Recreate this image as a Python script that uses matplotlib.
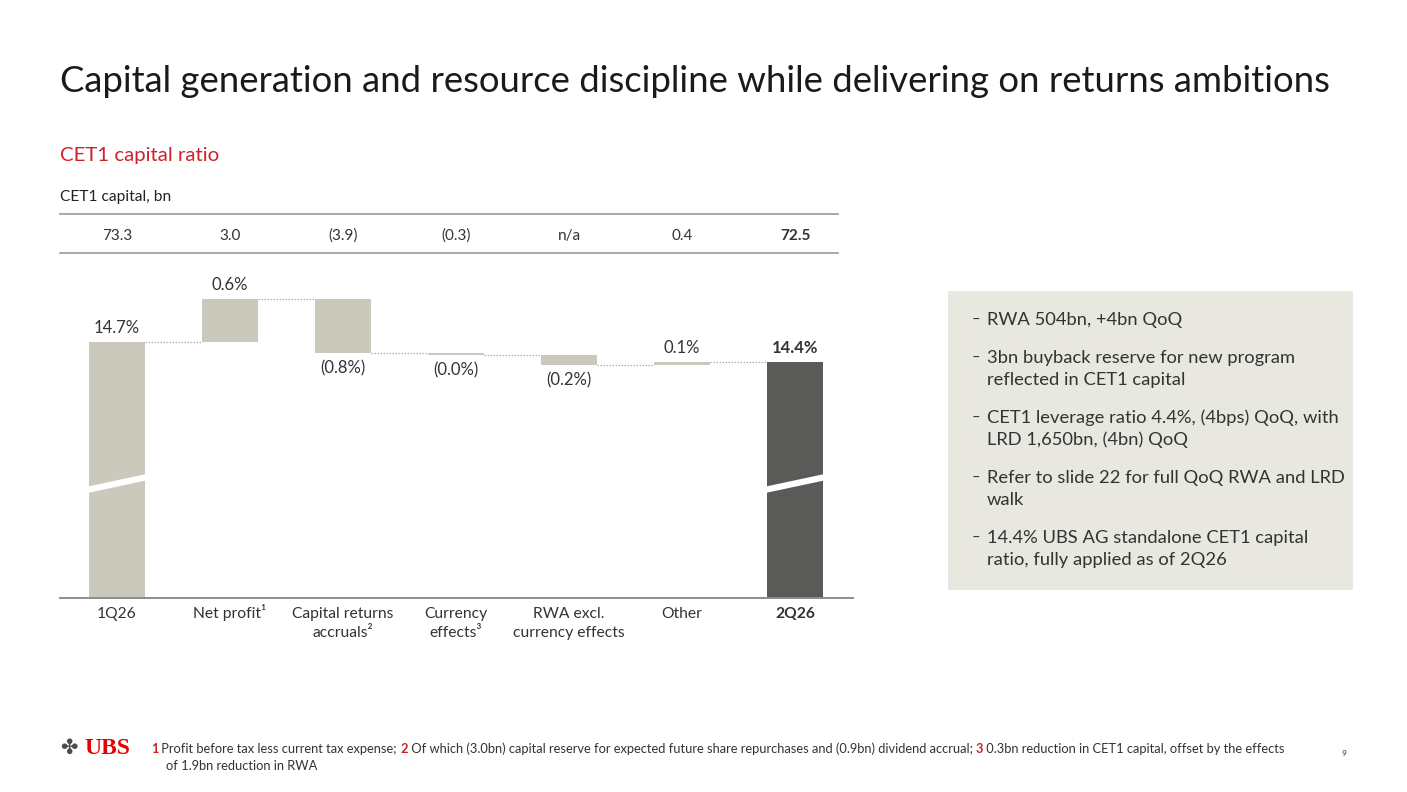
import matplotlib
matplotlib.use("Agg")
import matplotlib.pyplot as plt
from matplotlib import font_manager as fm
from matplotlib.transforms import blended_transform_factory
from matplotlib.lines import Line2D
from matplotlib.patches import Rectangle

# ---------------- data ----------------
categories = ["1Q26", "Net profit¹", "Capital returns\naccruals²", "Currency\neffects³",
              "RWA excl.\ncurrency effects", "Other", "2Q26"]
ratio_start = 14.70
ratio_deltas = [0.60, -0.76, -0.02, -0.14, 0.04]
ratio_labels = ["14.7%", "0.6%", "(0.8%)", "(0.0%)", "(0.2%)", "0.1%", "14.4%"]
capital_bn = ["73.3", "3.0", "(3.9)", "(0.3)", "n/a", "0.4", "72.5"]
bullets = [
    ["RWA 504bn, +4bn QoQ"],
    ["3bn buyback reserve for new program", "reflected in CET1 capital"],
    ["CET1 leverage ratio 4.4%, (4bps) QoQ, with", "LRD 1,650bn, (4bn) QoQ"],
    ["Refer to slide 22 for full QoQ RWA and LRD", "walk"],
    ["14.4% UBS AG standalone CET1 capital", "ratio, fully applied as of 2Q26"],
]
title = "Capital generation and resource discipline while delivering on returns ambitions"
subtitle = "CET1 capital ratio"
table_caption = "CET1 capital, bn"
footnote_parts = [
    ("1", True), (" Profit before tax less current tax expense; ", False),
    ("2", True), (" Of which (3.0bn) capital reserve for expected future share repurchases and (0.9bn) dividend accrual; ", False),
    ("3", True), (" 0.3bn reduction in CET1 capital, offset by the effects", False),
]
footnote_line2 = "of 1.9bn reduction in RWA"

# ---------------- style ----------------
W, H = 1407, 792
avail = {f.name for f in fm.fontManager.ttflist}
BODY = "Lato" if "Lato" in avail else "DejaVu Sans"
RED = "#cc2229"
LIGHT = "#cbc9bb"
DARK = "#5a5b59"
TXT = "#333333"

def fx(px):
    return px / W

def fy(py):
    return 1 - py / H

fig = plt.figure(figsize=(W / 100, H / 100), dpi=100)
fig.patch.set_facecolor("white")
renderer = fig.canvas.get_renderer()

def text_width(s, **kw):
    t = fig.text(0, 0, s, **kw)
    w = t.get_window_extent(renderer).width
    t.remove()
    return w

def fit(s, target, base=12, **kw):
    return base * target / text_width(s, fontsize=base, **kw)

# ---------------- header ----------------
fs_title = fit(title, 1265, family=BODY)
fig.text(fx(60), fy(92), title, family=BODY, fontsize=fs_title, color="#1a1a1a", va="baseline")
fs_sub = fit(subtitle, 159, family=BODY)
fig.text(fx(60), fy(155), subtitle, family=BODY, fontsize=fs_sub, color=RED, va="center")
fs_cap = fit(table_caption, 110, family=BODY)
fig.text(fx(60), fy(197), table_caption, family=BODY, fontsize=fs_cap, color="#222222", va="center")

# ---------------- chart ----------------
y_top_px, y_bot_px = 260, 598
ax = fig.add_axes([fx(60), fy(y_bot_px), (853 - 60) / W, (y_bot_px - y_top_px) / H])
px_per_pct = 71.7
y0 = ratio_start - (y_bot_px - 342) / px_per_pct
y1 = ratio_start + (342 - y_top_px) / px_per_pct
ax.set_ylim(y0, y1)
ax.set_xlim(-0.504, 6.513)

n = len(categories)
levels = [ratio_start]
for d in ratio_deltas:
    levels.append(levels[-1] + d)
end_val = levels[-1]
bw = 0.5

# start bar
ax.bar(0, ratio_start - y0, bottom=y0, width=bw, color=LIGHT, zorder=2)
# delta bars
for i, d in enumerate(ratio_deltas, start=1):
    b = min(levels[i - 1], levels[i])
    ax.bar(i, abs(d), bottom=b, width=bw, color=LIGHT, zorder=2)
# end bar
ax.bar(n - 1, end_val - y0, bottom=y0, width=bw, color=DARK, zorder=2)

# connectors
for i in range(n - 1):
    lvl = levels[i]
    ax.plot([i + bw / 2, i + 1 - bw / 2], [lvl, lvl], color="#b0b0b0", lw=0.9,
            ls=(0, (1.2, 1.2)), zorder=1)

# axis break marks
yb1 = ratio_start - (490 - 342) / px_per_pct
yb2 = ratio_start - (477 - 342) / px_per_pct
for xi in (0, n - 1):
    ax.plot([xi - bw / 2 - 0.02, xi + bw / 2 + 0.02], [yb1, yb2], color="white", lw=4.5,
            solid_capstyle="butt", zorder=3)

# value labels
fs_val = fit("14.7%", 46, family=BODY)
tops = [ratio_start] + [max(levels[i - 1], levels[i]) for i in range(1, n - 1)] + [end_val]
bots = [y0] + [min(levels[i - 1], levels[i]) for i in range(1, n - 1)] + [y0]
signs = [1] + [1 if d > 0 else -1 for d in ratio_deltas] + [1]
for i in range(n):
    if signs[i] > 0:
        ax.annotate(ratio_labels[i], (i, tops[i]), xytext=(0, 14), textcoords="offset pixels",
                    ha="center", va="center", family=BODY, fontsize=fs_val, color=TXT,
                    fontweight="bold" if i == n - 1 else "normal")
    else:
        ax.annotate(ratio_labels[i], (i, bots[i]), xytext=(0, -15), textcoords="offset pixels",
                    ha="center", va="center", family=BODY, fontsize=fs_val, color=TXT)

for s in ("top", "right", "left"):
    ax.spines[s].set_visible(False)
ax.spines["bottom"].set_color("#8c8c8c")
ax.spines["bottom"].set_linewidth(1.4)
ax.set_yticks([])
ax.set_xticks([])
ax.patch.set_alpha(0)

# category labels (drawn line by line on the data x positions)
tr = blended_transform_factory(ax.transData, fig.transFigure)
fs_tick = fit("Capital returns", 101, family=BODY)
for i, lab in enumerate(categories):
    for j, line in enumerate(lab.split("\n")):
        fig.text(i, fy(618 + 19 * j), line, transform=tr, ha="center", va="baseline",
                 family=BODY, fontsize=fs_tick, color=TXT,
                 fontweight="bold" if i == n - 1 else "normal")

# table of CET1 capital
fs_tab = fit("73.3", 30, family=BODY)
for i, v in enumerate(capital_bn):
    fig.text(i, fy(240), v, transform=tr, ha="center", va="baseline", family=BODY,
             fontsize=fs_tab, color=TXT, fontweight="bold" if i == n - 1 else "normal")
for yy in (214, 253):
    fig.add_artist(Line2D([fx(60), fx(838)], [fy(yy), fy(yy)], color="#9a9a9a", lw=1.2))

# ---------------- commentary box ----------------
fig.add_artist(Rectangle((fx(948), fy(590)), (1353 - 948) / W, (590 - 291) / H,
                         facecolor="#e8e8e0", edgecolor="none"))
fs_b = fit("CET1 leverage ratio 4.4%, (4bps) QoQ, with", 351, family=BODY)
y = 320
for b in bullets:
    fig.text(fx(972), fy(y), "–", family=BODY, fontsize=fs_b * 0.8, color=TXT, va="center")
    for line in b:
        fig.text(fx(987), fy(y), line, family=BODY, fontsize=fs_b, color=TXT, va="center")
        y += 22
    y += 16

# ---------------- footer ----------------
fig.text(fx(60), fy(748), "✤", family="DejaVu Sans", fontsize=15, color="#4d4d4d", va="center")
fig.text(fx(84), fy(748), "UBS", family="Liberation Serif", fontweight="bold", fontsize=17,
         color="#e60000", va="center")

full = "".join(p for p, _ in footnote_parts)
fs_fn = fit(full, 1141, family=BODY)
xcur = 151
for txt, hl in footnote_parts:
    kw = dict(family=BODY, fontsize=fs_fn, color=RED if hl else "#333333",
              fontweight="bold" if hl else "normal")
    fig.text(fx(xcur), fy(749), txt, va="center", **kw)
    xcur += text_width(txt, **kw)
fig.text(fx(166), fy(766), footnote_line2, family=BODY, fontsize=fs_fn, color="#333333", va="center")
fig.text(fx(1341), fy(754), "9", family=BODY, fontsize=6, color="#333333", va="center")

fig.savefig("out.png", dpi=100, facecolor="white")
